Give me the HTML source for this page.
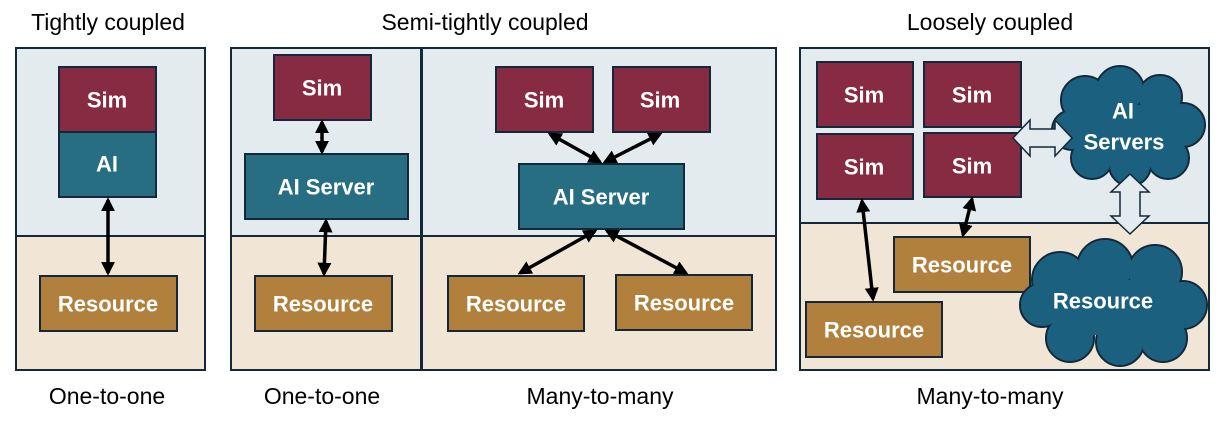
<!DOCTYPE html>
<html><head><style>
body{margin:0;background:#fff;}
svg text{font-family:"Liberation Sans",sans-serif;}
.b{font-weight:bold;fill:#fff;font-size:22px;text-anchor:middle;dominant-baseline:central;}
.t{font-size:23px;fill:#000;text-anchor:middle;}
</style></head><body>
<svg width="1224" height="416" viewBox="0 0 1224 416" xmlns="http://www.w3.org/2000/svg">
<defs>
<marker id="a" viewBox="0 0 10 10" refX="8" refY="5" markerWidth="4" markerHeight="4" orient="auto-start-reverse"><path d="M0,0L10,5L0,10z" fill="#000"/></marker>
</defs>
<g stroke="#13283a" stroke-width="2">
<rect x="16" y="48" width="189" height="188" fill="#e3ebef"/>
<rect x="16" y="236" width="189" height="134" fill="#f1e5d6"/>
<rect x="231" y="48" width="190" height="188" fill="#e3ebef"/>
<rect x="231" y="236" width="190" height="134" fill="#f1e5d6"/>
<rect x="422" y="48" width="354" height="188" fill="#e3ebef"/>
<rect x="422" y="236" width="354" height="134" fill="#f1e5d6"/>
<rect x="800" y="48" width="409" height="175" fill="#e3ebef"/>
<rect x="800" y="223" width="409" height="147" fill="#f1e5d6"/>
</g>
<g stroke="#13283a" stroke-width="2">
<rect x="59" y="67" width="97" height="65" fill="#862b42"/>
<rect x="59" y="132" width="97" height="65" fill="#286e82"/>
<rect x="40" y="276" width="137" height="55" fill="#b1803c"/>
<rect x="274" y="55" width="97" height="65" fill="#862b42"/>
<rect x="245" y="154" width="163" height="65" fill="#286e82"/>
<rect x="255" y="276" width="137" height="55" fill="#b1803c"/>
<rect x="496" y="67" width="97" height="65" fill="#862b42"/>
<rect x="613" y="67" width="97" height="65" fill="#862b42"/>
<rect x="519" y="164" width="165" height="65" fill="#286e82"/>
<rect x="448" y="276" width="136" height="55" fill="#b1803c"/>
<rect x="616" y="275" width="136" height="55" fill="#b1803c"/>
<rect x="817" y="62" width="96" height="65" fill="#862b42"/>
<rect x="924" y="62" width="97" height="65" fill="#862b42"/>
<rect x="817" y="134" width="96" height="65" fill="#862b42"/>
<rect x="924" y="133" width="97" height="64" fill="#862b42"/>
<rect x="894" y="237" width="136" height="55" fill="#b1803c"/>
<rect x="806" y="302" width="136" height="55" fill="#b1803c"/>
</g>
<g fill="#1b607e" stroke="#13283a" stroke-width="2">
<circle cx="1085" cy="100" r="24"/><circle cx="1120" cy="90" r="24"/><circle cx="1160" cy="97" r="22"/><circle cx="1183" cy="125" r="22"/><circle cx="1168" cy="158" r="21"/><circle cx="1130" cy="165" r="21"/><circle cx="1092" cy="158" r="21"/><circle cx="1072" cy="130" r="20"/>
<circle cx="1060" cy="280" r="28"/><circle cx="1105" cy="267" r="28"/><circle cx="1155" cy="272" r="27"/><circle cx="1183" cy="305" r="24"/><circle cx="1163" cy="338" r="24"/><circle cx="1120" cy="342" r="24"/><circle cx="1070" cy="338" r="24"/><circle cx="1042" cy="305" r="22"/>
</g>
<g fill="#1b607e">
<rect x="1082" y="105" width="85" height="55"/><circle cx="1085" cy="100" r="23"/><circle cx="1120" cy="90" r="23"/><circle cx="1160" cy="97" r="21"/><circle cx="1183" cy="125" r="21"/><circle cx="1168" cy="158" r="20"/><circle cx="1130" cy="165" r="20"/><circle cx="1092" cy="158" r="20"/><circle cx="1072" cy="130" r="19"/>
<rect x="1055" y="280" width="120" height="55"/><circle cx="1060" cy="280" r="27"/><circle cx="1105" cy="267" r="27"/><circle cx="1155" cy="272" r="26"/><circle cx="1183" cy="305" r="23"/><circle cx="1163" cy="338" r="23"/><circle cx="1120" cy="342" r="23"/><circle cx="1070" cy="338" r="23"/><circle cx="1042" cy="305" r="21"/>
</g>
<path d="M1013,138 L1030,120 L1030,129 L1055,129 L1055,120 L1072,138 L1055,156 L1055,147 L1030,147 L1030,156 Z" fill="#e3ebef" stroke="#13283a" stroke-width="1.5"/>
<path d="M1130,174 L1149,192 L1140,192 L1140,216 L1149,216 L1130,234 L1111,216 L1120,216 L1120,192 L1111,192 Z" fill="#e3ebef" stroke="#13283a" stroke-width="1.5"/>
<g stroke="#000" stroke-width="3.5" marker-start="url(#a)" marker-end="url(#a)">
<line x1="108" y1="200" x2="108" y2="273"/>
<line x1="322" y1="122" x2="322" y2="152"/>
<line x1="326" y1="221" x2="324" y2="274"/>
<line x1="550" y1="134" x2="600" y2="162"/>
<line x1="660" y1="134" x2="605" y2="162"/>
<line x1="595" y1="231" x2="520" y2="273"/>
<line x1="607" y1="231" x2="686" y2="273"/>
<line x1="862" y1="201" x2="873" y2="299"/>
<line x1="972" y1="199" x2="963" y2="235"/>
</g>
<text class="b" x="107" y="100">Sim</text>
<text class="b" x="107" y="164">AI</text>
<text class="b" x="108" y="304">Resource</text>
<text class="b" x="322" y="88">Sim</text>
<text class="b" x="326" y="187">AI Server</text>
<text class="b" x="323" y="304">Resource</text>
<text class="b" x="544" y="100">Sim</text>
<text class="b" x="660" y="100">Sim</text>
<text class="b" x="601" y="197">AI Server</text>
<text class="b" x="516" y="304">Resource</text>
<text class="b" x="684" y="303">Resource</text>
<text class="b" x="864" y="95">Sim</text>
<text class="b" x="972" y="95">Sim</text>
<text class="b" x="864" y="167">Sim</text>
<text class="b" x="972" y="166">Sim</text>
<text class="b" x="1123" y="111">AI</text>
<text class="b" x="1124" y="142">Servers</text>
<text class="b" x="1103" y="301">Resource</text>
<text class="b" x="962" y="265">Resource</text>
<text class="b" x="874" y="330">Resource</text>
<text class="t" x="108" y="30">Tightly coupled</text>
<text class="t" x="485" y="30">Semi-tightly coupled</text>
<text class="t" x="990" y="30">Loosely coupled</text>
<text class="t" x="107" y="404">One-to-one</text>
<text class="t" x="322" y="404">One-to-one</text>
<text class="t" x="600" y="404">Many-to-many</text>
<text class="t" x="990" y="404">Many-to-many</text>
</svg>
</body></html>
